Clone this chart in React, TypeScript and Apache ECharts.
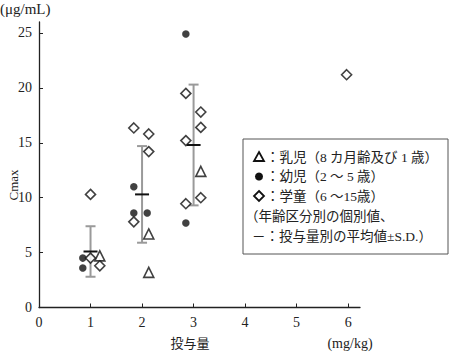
import React, { useEffect, useRef } from "react";
import * as echarts from "echarts";

// Individual values (dose mg/kg jittered for display, Cmax μg/mL)
const infantX = [1.18, 2.13, 2.13, 3.14];
const infantY = [4.7, 6.7, 3.2, 12.4];

const toddlerX = [0.85, 0.85, 1.84, 1.84, 2.1, 2.85, 2.85];
const toddlerY = [4.5, 3.6, 11.0, 8.6, 8.6, 24.9, 7.7];

const childX = [1.0, 1.0, 1.18, 1.84, 2.13, 2.13, 1.84, 2.85, 3.14, 3.14, 2.85, 3.14, 2.85, 5.97];
const childY = [10.3, 4.5, 3.8, 16.35, 15.8, 14.2, 7.8, 19.5, 17.8, 16.4, 15.2, 10.0, 9.45, 21.2];

// Mean ± S.D. by dose
const doses = [1, 2, 3];
const means = [5.1, 10.3, 14.8];
const sds = [2.3, 4.4, 5.5];

const xTicks = [0, 1, 2, 3, 4, 5, 6];
const yTicks = [0, 5, 10, 15, 20, 25];

const legendLines = [
  "：乳児（8 カ月齢及び 1 歳）",
  "：幼児（2 〜 5 歳）",
  "：学童（6 〜15歳）",
  "（年齢区分別の個別値、",
  "－：投与量別の平均値±S.D.）",
];

const SERIF = "'Liberation Serif', 'DejaVu Serif', 'Noto Sans CJK JP', serif";
const JP = "'Liberation Serif', 'Noto Sans CJK JP', sans-serif";

const zip = (xs: number[], ys: number[]) => xs.map((x, i) => [x, ys[i]]);

export default function App() {
  const ref = useRef<HTMLDivElement>(null);
  useEffect(() => {
    if (!ref.current) return;
    const chart = echarts.init(ref.current, undefined, { renderer: "svg" });
    const lx = 243, ly = 139, lw = 205, lh = 115;
    const rowY = [157, 176.5, 196, 216, 236];
    const option: any = {
      animation: false,
      backgroundColor: "#ffffff",
      grid: { left: 39, right: 90, top: 22, bottom: 44.5, containLabel: false },
      xAxis: {
        type: "value",
        min: 0,
        max: 6.23,
        interval: 1,
        axisLine: { show: true, lineStyle: { color: "#222", width: 1.3 } },
        axisTick: { show: true, inside: true, length: 4, customValues: xTicks, lineStyle: { color: "#222" } },
        axisLabel: {
          customValues: xTicks,
          margin: 8,
          color: "#222",
          fontSize: 14,
          fontFamily: SERIF,
          formatter: (v: number) => (Number.isInteger(v) ? String(v) : ""),
        },
        splitLine: { show: false },
      },
      yAxis: {
        type: "value",
        min: 0,
        max: 26,
        interval: 5,
        axisLine: { show: true, lineStyle: { color: "#222", width: 1.3 } },
        axisTick: { show: true, inside: true, length: 4, customValues: yTicks, lineStyle: { color: "#222" } },
        axisLabel: {
          customValues: yTicks,
          margin: 7,
          color: "#222",
          fontSize: 14,
          fontFamily: SERIF,
          formatter: (v: number) => (Number.isInteger(v) && v % 5 === 0 ? String(v) : ""),
        },
        splitLine: { show: false },
      },
      series: [
        {
          type: "custom",
          name: "平均値±S.D.",
          z: 1,
          encode: { x: 0, y: 1 },
          data: doses.map((d, i) => [d, means[i], sds[i]]),
          renderItem: (params: any, api: any) => {
            const x = api.value(0), m = api.value(1), s = api.value(2);
            const top = api.coord([x, m + s]);
            const bot = api.coord([x, m - s]);
            const mid = api.coord([x, m]);
            const grey = { stroke: "#9a9a9a", lineWidth: 2 };
            return {
              type: "group",
              children: [
                { type: "line", shape: { x1: top[0], y1: top[1], x2: bot[0], y2: bot[1] }, style: grey },
                { type: "line", shape: { x1: top[0] - 5, y1: top[1], x2: top[0] + 5, y2: top[1] }, style: grey },
                { type: "line", shape: { x1: bot[0] - 5, y1: bot[1], x2: bot[0] + 5, y2: bot[1] }, style: grey },
                { type: "line", shape: { x1: mid[0] - 7, y1: mid[1], x2: mid[0] + 7, y2: mid[1] }, style: { stroke: "#111", lineWidth: 2 } },
              ],
            };
          },
        },
        {
          type: "scatter",
          name: "乳児",
          z: 3,
          symbol: "triangle",
          symbolSize: 10,
          itemStyle: { color: "#fff", borderColor: "#111", borderWidth: 1.6 },
          data: zip(infantX, infantY),
        },
        {
          type: "scatter",
          name: "幼児",
          z: 3,
          symbol: "circle",
          symbolSize: 7.5,
          itemStyle: { color: "#111", borderWidth: 0 },
          data: zip(toddlerX, toddlerY),
        },
        {
          type: "scatter",
          name: "学童",
          z: 3,
          symbol: "diamond",
          symbolSize: 10,
          itemStyle: { color: "#fff", borderColor: "#111", borderWidth: 1.6 },
          data: zip(childX, childY),
        },
      ],
      graphic: [
        { type: "text", left: 0, top: 1, style: { text: "(μg/mL)", font: `15px ${SERIF}`, fill: "#222" } },
        {
          type: "text",
          x: 13,
          y: 185,
          rotation: Math.PI / 2,
          style: { text: "Cmax", font: `13px ${SERIF}`, fill: "#222", align: "center", verticalAlign: "middle" },
        },
        { type: "text", x: 190, y: 343, style: { text: "投与量", font: `13px ${JP}`, fill: "#222", align: "center", verticalAlign: "middle" } },
        { type: "text", x: 350, y: 343, style: { text: "(mg/kg)", font: `14px ${SERIF}`, fill: "#222", align: "center", verticalAlign: "middle" } },
        {
          type: "rect",
          shape: { x: lx, y: ly, width: lw, height: lh },
          style: { fill: "#fff", stroke: "#555", lineWidth: 1 },
          z: 10,
        },
        {
          type: "polygon",
          z: 11,
          shape: { points: [[259, rowY[0] - 5], [264, rowY[0] + 4], [254, rowY[0] + 4]] },
          style: { fill: "#fff", stroke: "#111", lineWidth: 1.8 },
        },
        { type: "circle", z: 11, shape: { cx: 259, cy: rowY[1], r: 4 }, style: { fill: "#111" } },
        {
          type: "polygon",
          z: 11,
          shape: { points: [[259, rowY[2] - 5], [264, rowY[2]], [259, rowY[2] + 5], [254, rowY[2]]] },
          style: { fill: "#fff", stroke: "#111", lineWidth: 1.8 },
        },
        ...legendLines.map((t, i) => ({
          type: "text",
          z: 11,
          x: i < 3 ? 266 : i === 3 ? 245 : 252,
          y: rowY[i],
          style: { text: t, font: `13.5px ${JP}`, fill: "#222", verticalAlign: "middle" },
        })),
      ],
    };
    chart.setOption(option);
    return () => chart.dispose();
  }, []);
  return <div ref={ref} style={{ position: "fixed", left: 0, top: 0, width: 450, height: 352 }} />;
}
